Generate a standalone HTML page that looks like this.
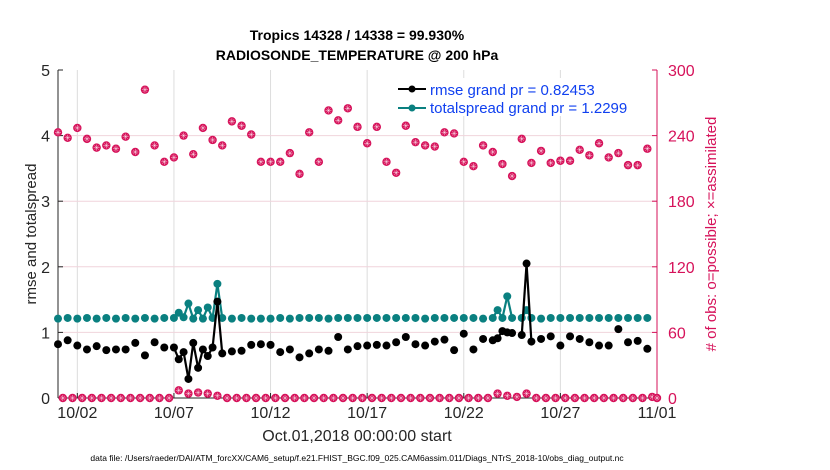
<!DOCTYPE html>
<html><head><meta charset="utf-8">
<style>
body{margin:0;background:#fff;}
svg{display:block;font-family:"Liberation Sans",Arial,sans-serif;}
</style></head>
<body>
<svg id="chart" width="830" height="470" viewBox="0 0 830 470">
<rect width="830" height="470" fill="#fff"/>
<g id="grid"></g>
<g id="axes"></g>
<g id="series"></g>
<text x="357" y="40" text-anchor="middle" font-size="14" font-weight="bold" fill="#000">Tropics 14328 / 14338 = 99.930%</text>
<text x="357" y="60" text-anchor="middle" font-size="14" font-weight="bold" fill="#000">RADIOSONDE_TEMPERATURE @ 200 hPa</text>
<text transform="translate(36,234) rotate(-90)" text-anchor="middle" font-size="15" fill="#262626">rmse and totalspread</text>
<text transform="translate(716,234) rotate(-90)" text-anchor="middle" font-size="15" fill="#d6125a"># of obs: o=possible; ×=assimilated</text>
<text x="357" y="441" text-anchor="middle" font-size="16" fill="#262626">Oct.01,2018 00:00:00 start</text>
<text x="357" y="461" text-anchor="middle" font-size="8.5" fill="#000">data file: /Users/raeder/DAI/ATM_forcXX/CAM6_setup/f.e21.FHIST_BGC.f09_025.CAM6assim.011/Diags_NTrS_2018-10/obs_diag_output.nc</text>
<g>
<rect x="393" y="78" width="262" height="38" fill="#fff"/>
<line x1="398" y1="89" x2="426" y2="89" stroke="#000" stroke-width="2"/>
<circle cx="412" cy="89" r="3.5" fill="#000"/>
<text x="430" y="95" font-size="15" fill="#1040f0">rmse grand pr = 0.82453</text>
<line x1="398" y1="108" x2="426" y2="108" stroke="#0a8080" stroke-width="2"/>
<circle cx="412" cy="108" r="3.5" fill="#0a8080"/>
<text x="430" y="113" font-size="15" fill="#1040f0">totalspread grand pr = 1.2299</text>
</g>
</svg>
<script>
const xTickLabels=["10/02","10/07","10/12","10/17","10/22","10/27","11/01"];
const xTickDays=[1,6,11,16,21,26,31];
const leftTicks=[0,1,2,3,4,5];
const rightTicks=[0,60,120,180,240,300];
const seriesTimes=[0,0.5,1,1.5,2,2.5,3,3.5,4,4.5,5,5.5,6,6.25,6.5,6.75,7,7.25,7.5,7.75,8,8.25,8.5,9,9.5,10,10.5,11,11.5,12,12.5,13,13.5,14,14.5,15,15.5,16,16.5,17,17.5,18,18.5,19,19.5,20,20.5,21,21.5,22,22.5,22.75,23,23.25,23.5,24,24.25,24.5,25,25.5,26,26.5,27,27.5,28,28.5,29,29.5,30,30.5];
const rmseValues=[0.82,0.88,0.80,0.74,0.79,0.73,0.74,0.74,0.84,0.65,0.85,0.77,0.77,0.59,0.70,0.29,0.84,0.46,0.74,0.64,0.77,1.47,0.68,0.71,0.72,0.81,0.82,0.81,0.70,0.74,0.62,0.68,0.74,0.72,0.93,0.74,0.79,0.80,0.81,0.80,0.85,0.93,0.82,0.80,0.86,0.89,0.73,0.98,0.74,0.90,0.88,0.91,1.02,1.00,0.99,0.96,2.05,0.86,0.90,0.94,0.80,0.94,0.90,0.85,0.80,0.80,1.05,0.85,0.87,0.75];
const spreadValues=[1.21,1.22,1.21,1.22,1.21,1.22,1.21,1.22,1.21,1.22,1.21,1.22,1.22,1.30,1.23,1.44,1.21,1.34,1.21,1.38,1.22,1.74,1.22,1.21,1.22,1.21,1.21,1.21,1.22,1.21,1.22,1.22,1.22,1.21,1.22,1.22,1.22,1.22,1.22,1.22,1.22,1.22,1.22,1.21,1.22,1.22,1.22,1.22,1.22,1.21,1.22,1.34,1.22,1.55,1.22,1.22,1.34,1.22,1.21,1.22,1.22,1.22,1.22,1.22,1.22,1.22,1.22,1.22,1.22,1.22];
const obsTimes=[0,0.5,1,1.5,2,2.5,3,3.5,4,4.5,5,5.5,6,6.5,7,7.5,8,8.5,9,9.5,10,10.5,11,11.5,12,12.5,13,13.5,14,14.5,15,15.5,16,16.5,17,17.5,18,18.5,19,19.5,20,20.5,21,21.5,22,22.5,23,23.5,24,24.5,25,25.5,26,26.5,27,27.5,28,28.5,29,29.5,30,30.5];
const obsValues=[243,238,247,237,229,231,228,239,225,282,231,216,220,240,223,247,236,231,253,249,241,216,216,216,224,205,243,216,263,254,265,248,233,248,216,206,249,234,231,230,243,242,216,212,231,225,214,203,237,215,226,215,217,217,227,222,233,220,224,213,213,228];
const offTimes=[0.25,0.75,1.25,1.75,2.25,2.75,3.25,3.75,4.25,4.75,5.25,5.75,6.25,6.75,7.25,7.75,8.25,8.75,9.25,9.75,10.25,10.75,11.25,11.75,12.25,12.75,13.25,13.75,14.25,14.75,15.25,15.75,16.25,16.75,17.25,17.75,18.25,18.75,19.25,19.75,20.25,20.75,21.25,21.75,22.25,22.75,23.25,23.75,24.25,24.75,25.25,25.75,26.25,26.75,27.25,27.75,28.25,28.75,29.25,29.75,30.25,30.75,31];
const offValues=[0,0,0,0,0,0,0,0,0,0,0,0,7,4,5,4,2,0,0,0,0,0,0,0,0,0,0,0,0,0,0,0,0,0,0,0,0,0,0,0,0,0,0,0,0,4,2,1,4,0,0,0,0,0,0,0,0,0,0,0,0,1,0];

const NS="http://www.w3.org/2000/svg";
const X0=58,X1=657,Y0=398,Y1=70;
function xs(t){return X0+(X1-X0)*t/31;}
function yl(v){return Y0-(Y0-Y1)*v/5;}
function yr(v){return Y0-(Y0-Y1)*v/300;}
function mk(tag,attrs,parent){const e=document.createElementNS(NS,tag);for(const k in attrs)e.setAttribute(k,attrs[k]);parent.appendChild(e);return e;}
const grid=document.getElementById('grid'),axes=document.getElementById('axes'),series=document.getElementById('series');

xTickDays.forEach((d,i)=>{
  const l=mk('line',{x1:xs(d),x2:xs(d),y1:Y1,y2:Y0,stroke:'#dcdcdc','stroke-width':1},grid);
  
  
  const tk=mk('line',{x1:xs(d),x2:xs(d),y1:Y0,y2:Y0-5,stroke:'#262626'},axes);
  
  
  const t=mk('text',{x:xs(d),y:418,'text-anchor':'middle','font-size':16,fill:'#262626'},axes);
  t.textContent=xTickLabels[i];
  
  
});
rightTicks.forEach(v=>{
  if(v>0&&v<300){const l=mk('line',{x1:X0,x2:X1,y1:yr(v),y2:yr(v),stroke:'#f0d4dc','stroke-width':1},grid);
  
  }
  const tk=mk('line',{x1:X1,x2:X1-5,y1:yr(v),y2:yr(v),stroke:'#d6125a'},axes);
  
  
  const t=mk('text',{x:668,y:yr(v)+6,'font-size':16,fill:'#d6125a'},axes);
  t.textContent=v;
  
  
});
leftTicks.forEach(v=>{
  const tk=mk('line',{x1:X0,x2:X0+5,y1:yl(v),y2:yl(v),stroke:'#262626'},axes);
  
  
  const t=mk('text',{x:50,y:yl(v)+6,'text-anchor':'end','font-size':16,fill:'#262626'},axes);
  t.textContent=v;
  
  
});
const la=mk('line',{x1:X0,x2:X0,y1:Y1,y2:Y0,stroke:'#262626'},axes);


const ra=mk('line',{x1:X1,x2:X1,y1:Y1,y2:Y0,stroke:'#d6125a'},axes);


const xa=mk('line',{x1:X0,x2:X1,y1:Y0,y2:Y0,stroke:'#262626'},axes);



function obsMarker(t,v){
  const g=mk('g',{},series);
  
  
  const cx=xs(t),cy=yr(v);
  mk('circle',{cx:cx,cy:cy,r:4.2,fill:'#d6125a'},g);
  const p=`M${cx-3},${cy}h6M${cx},${cy-3}v6M${cx-2.1},${cy-2.1}l4.2,4.2M${cx-2.1},${cy+2.1}l4.2,-4.2`;
  mk('path',{d:p,stroke:'#fff','stroke-width':0.5,'stroke-opacity':0.8},g);
}
obsTimes.forEach((t,i)=>obsMarker(t,obsValues[i]));
offTimes.forEach((t,i)=>obsMarker(t,offValues[i]));

function drawLine(vals,color,name){
  for(let i=1;i<seriesTimes.length;i++){
    if(seriesTimes[i]-seriesTimes[i-1]<=0.26){
      const l=mk('line',{x1:xs(seriesTimes[i-1]),y1:yl(vals[i-1]),x2:xs(seriesTimes[i]),y2:yl(vals[i]),stroke:color,'stroke-width':2.2},series);
      
      
    }
  }
  seriesTimes.forEach((t,i)=>{
    const c=mk('circle',{cx:xs(t),cy:yl(vals[i]),r:4,fill:color},series);
    
    
  });
}
drawLine(spreadValues,'#0a8080','totalspread');
drawLine(rmseValues,'#000','rmse');
</script>
</body></html>
